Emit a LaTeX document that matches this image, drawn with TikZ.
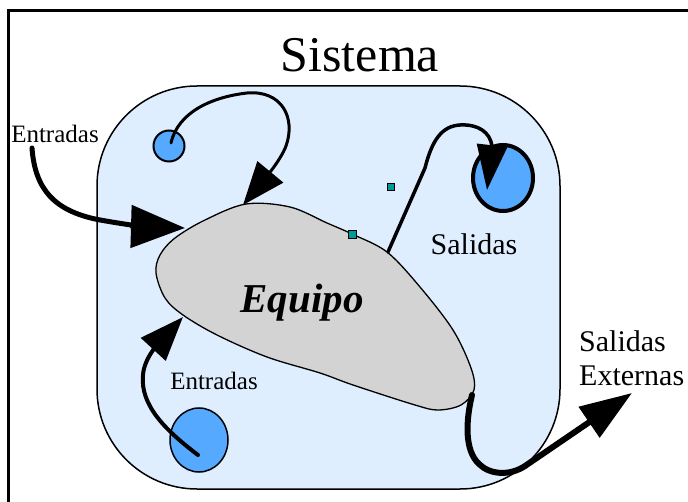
\documentclass[tikz,border=0pt]{standalone}
\usepackage{fontspec}
\setmainfont{Liberation Serif}
\usetikzlibrary{arrows.meta}
\definecolor{sysblue}{HTML}{DFEEFF}
\definecolor{ballblue}{HTML}{55AAFF}
\definecolor{blobgray}{HTML}{D3D3D3}
\definecolor{sqteal}{HTML}{009999}
\tikzset{
  lbl/.style={inner sep=0pt, anchor=base, text=black},
  ball/.style={draw=black, fill=ballblue},
  sq/.style={draw=black, fill=sqteal, line width=1pt, minimum size=7pt, inner sep=0pt},
  flow/.style={draw=black, line cap=round, line join=round},
}
\begin{document}
\begin{tikzpicture}[x=1pt,y=-1pt]
\useasboundingbox (0,0) rectangle (688,502);
% outer frame (left and top only visible)
\draw[line width=3pt] (8.5,502) -- (8.5,11) -- (688,11);
% system box
\draw[fill=sysblue, line width=1.5pt, rounded corners=100pt] (97,86) rectangle (560,489);
% balls
\draw[ball, line width=2pt] (169,146) circle[radius=15.5];
\draw[ball, line width=1.5pt] (199,440) ellipse[x radius=29, y radius=32];
\draw[ball, line width=4pt] (503,178) ellipse[x radius=30, y radius=33];
% equipment blob
\draw[fill=blobgray, line width=1.3pt] plot[smooth cycle, tension=0.55] coordinates {
 (246,204) (290,207) (327,223) (352,234) (387,252) (420,287) (453,330)
 (471,368) (474,390) (461,405) (438,410) (415,405) (353,385) (320,373)
 (267,357) (217,335) (183,315) (165,298) (156,273) (160,255) (175,238) (205,220)};
% squares
\node[sq] (sqa) at (391,187) {};
\node[sq, minimum size=8pt] (sqb) at (352,235) {};
% texts
\node[lbl, font=\fontsize{50}{60}\selectfont] (sistema) at (360,72) {Sistema};
\node[lbl, font=\fontsize{25}{30}\selectfont] (entA) at (55,143) {Entradas};
\node[lbl, font=\fontsize{25}{30}\selectfont] (entB) at (214,390) {Entradas};
\node[lbl, font=\fontsize{41}{48}\selectfont\bfseries\itshape] (equipo) at (302,313) {Equipo};
\node[lbl, font=\fontsize{30}{36}\selectfont] (salA) at (474,255) {Salidas};
\node[lbl, anchor=base west, font=\fontsize{30}{36}\selectfont] (salB) at (579,352) {Salidas};
\node[lbl, anchor=base west, font=\fontsize{30}{36}\selectfont] (salC) at (579,385) {Externas};
% arrows
\coordinate (a1s) at (32,148);
\coordinate (a1e) at (185,228);
\draw[flow, line width=5pt, -{Triangle[length=54pt,width=42pt]}]
  (a1s) .. controls (35,190) and (55,210) .. (95,219) .. controls (120,224) and (150,227) .. (a1e);
\coordinate (a2s) at (171,143);
\coordinate (a2e) at (243,205);
\draw[flow, line width=3pt, -{Triangle[length=43pt,width=33pt]}]
  (a2s) .. controls (178,112) and (212,97) .. (247,93) .. controls (282,90) and (296,118) .. (286,146) .. controls (281,160) and (262,182) .. (a2e);
\coordinate (a3s) at (198,455);
\coordinate (a3e) at (183,317);
\draw[flow, line width=4pt, -{Triangle[length=44pt,width=33pt]}]
  (a3s) .. controls (165,430) and (140,405) .. (143,375) .. controls (144,358) and (160,342) .. (a3e);
\coordinate (a4s) at (388,252);
\coordinate (a4e) at (487,190);
\draw[flow, line width=3.5pt, -{Triangle[length=45pt,width=30pt]}]
  (a4s) -- (425,168) .. controls (432,140) and (442,126) .. (460,125) .. controls (478,124) and (490,132) .. (492,146) -- (a4e);
\coordinate (a5s) at (472,395);
\coordinate (a5e) at (632,393);
\draw[flow, line width=6pt, -{Triangle[length=52pt,width=36pt]}]
  (a5s) .. controls (466,420) and (464,450) .. (479,464) .. controls (490,475) and (510,476) .. (525,466) -- (a5e);
\end{tikzpicture}
\end{document}
